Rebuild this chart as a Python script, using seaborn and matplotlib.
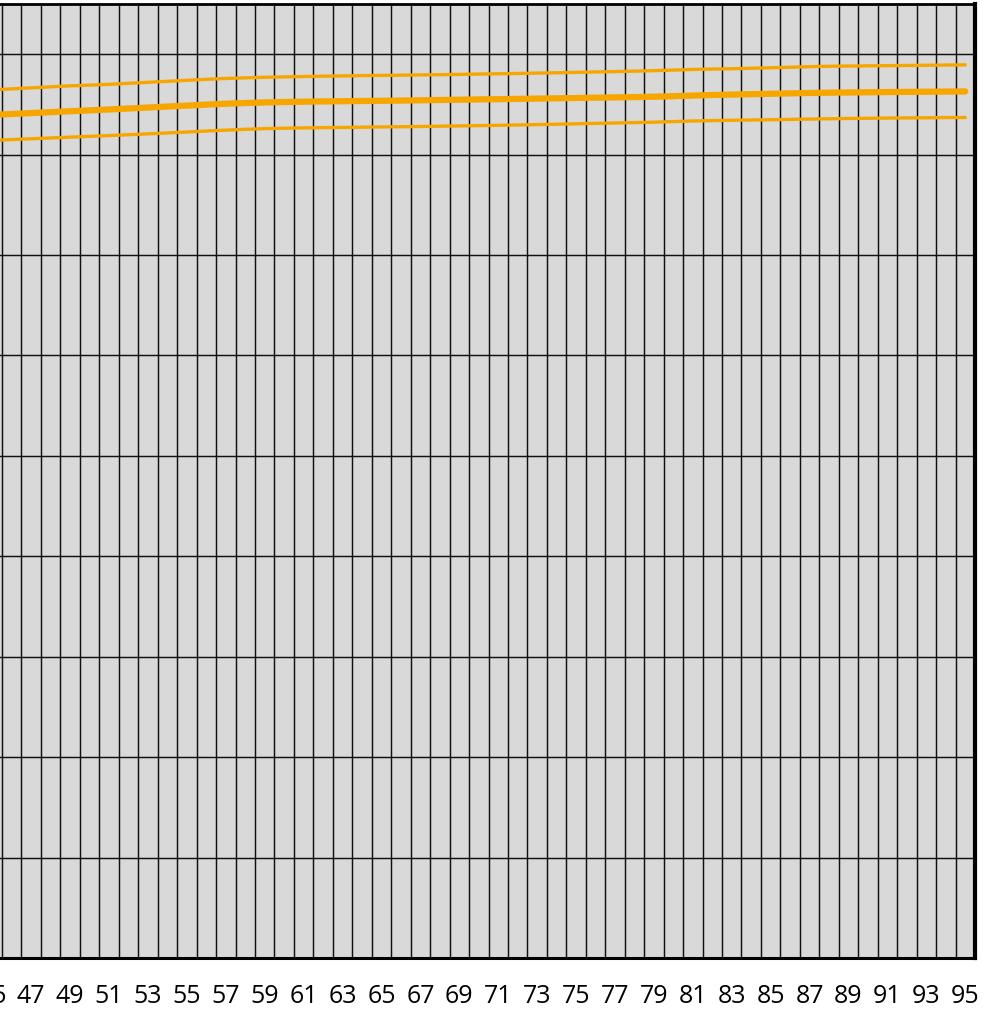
import matplotlib
matplotlib.use("Agg")
import matplotlib.pyplot as plt
import seaborn as sns
import pandas as pd
import numpy as np

# ---- data ----
categories = list(range(44, 96))
upper = [86.35, 86.45, 86.55, 86.65, 86.75, 86.85, 86.92, 87.00, 87.10, 87.20,
         87.30, 87.40, 87.50, 87.58, 87.65, 87.70, 87.74, 87.78, 87.81, 87.84,
         87.87, 87.89, 87.91, 87.94, 87.96, 87.99, 88.02, 88.05, 88.08, 88.12,
         88.15, 88.19, 88.23, 88.27, 88.31, 88.36, 88.42, 88.48, 88.52, 88.55,
         88.60, 88.65, 88.70, 88.76, 88.80, 88.82, 88.84, 88.86, 88.88, 88.90,
         88.92, 88.94]
middle = [83.85, 83.95, 84.05, 84.14, 84.23, 84.32, 84.41, 84.50, 84.59, 84.69,
          84.79, 84.88, 84.98, 85.07, 85.14, 85.20, 85.24, 85.27, 85.30, 85.32,
          85.34, 85.36, 85.38, 85.41, 85.44, 85.47, 85.50, 85.52, 85.55, 85.58,
          85.61, 85.64, 85.67, 85.70, 85.73, 85.77, 85.82, 85.88, 85.94, 85.98,
          86.02, 86.06, 86.10, 86.14, 86.17, 86.19, 86.21, 86.23, 86.25, 86.26,
          86.28, 86.29]
lower = [81.34, 81.42, 81.50, 81.58, 81.66, 81.74, 81.82, 81.90, 81.98, 82.07,
         82.16, 82.25, 82.35, 82.44, 82.52, 82.59, 82.63, 82.66, 82.69, 82.71,
         82.73, 82.76, 82.78, 82.80, 82.83, 82.86, 82.89, 82.92, 82.95, 82.99,
         83.03, 83.07, 83.11, 83.15, 83.19, 83.23, 83.29, 83.35, 83.39, 83.42,
         83.45, 83.48, 83.51, 83.54, 83.57, 83.60, 83.62, 83.64, 83.66, 83.67,
         83.69, 83.70]
label_cats = list(range(41, 96, 2))
y_grid = list(range(0, 100, 10))

sns.set_style("white")
plt.rcParams['font.family'] = ['Open Sans', 'DejaVu Sans']

fig = plt.figure(figsize=(9.85, 10.09), dpi=100, facecolor="white")
ax = fig.add_axes([-0.09675, 0.05054, 1.08660, 0.94550])
ax.set_facecolor("#D9D9D9")

orange = "#F7A600"
df_u = pd.DataFrame({"x": categories, "y": upper})
df_m = pd.DataFrame({"x": categories, "y": middle})
df_l = pd.DataFrame({"x": categories, "y": lower})
for d, lw in [(df_u, 2.4), (df_l, 2.4), (df_m, 4.5)]:
    sns.lineplot(data=d, x="x", y="y", ax=ax, color=orange, linewidth=lw,
                 solid_capstyle="round", zorder=5)

ax.set_xlim(40.5, 95.5)
ax.set_ylim(0, 95)

# category boundaries -> major ticks / gridlines
bounds = [c + 0.5 for c in range(40, 96)]
ax.set_xticks(bounds)
ax.set_xticklabels([])
ax.set_xticks(label_cats, minor=True)
ax.set_xticklabels([str(c) for c in label_cats], minor=True, fontsize=18)
ax.tick_params(axis="x", which="major", direction="out", length=5.5, width=1.0,
               color="black")
ax.tick_params(axis="x", which="minor", length=0, pad=19, labelcolor="black")
ax.set_yticks(y_grid)
ax.set_yticklabels([])
ax.tick_params(axis="y", length=0)

ax.grid(True, which="major", axis="both", color="#111111", linewidth=1.05)
ax.set_axisbelow(True)

for side, w in [("top", 2.0), ("bottom", 2.2), ("right", 3.0), ("left", 1.0)]:
    ax.spines[side].set_visible(True)
    ax.spines[side].set_color("black")
    ax.spines[side].set_linewidth(w)

ax.set_xlabel("")
ax.set_ylabel("")

fig.savefig("out.png", dpi=100, facecolor="white")
